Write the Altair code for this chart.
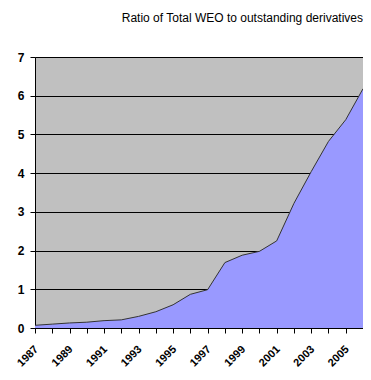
import altair as alt
import pandas as pd

years = list(range(1987, 2007))
ratio = [0.07, 0.10, 0.13, 0.15, 0.19, 0.21, 0.30, 0.42, 0.60, 0.87,
         0.99, 1.69, 1.88, 1.98, 2.25, 3.22, 4.04, 4.82, 5.38, 6.18]
y_ticks = [0, 1, 2, 3, 4, 5, 6, 7]
title_text = "Ratio of Total WEO to outstanding derivatives"

df = pd.DataFrame({"year": years, "ratio": ratio})

area = alt.Chart(df).mark_area(
    color="#9999FF",
    opacity=1,
    line={"color": "#333333", "strokeWidth": 1},
).encode(
    x=alt.X("year:Q",
            scale=alt.Scale(domain=[1987, 2006], nice=False, zero=False),
            axis=alt.Axis(values=years, title=None, grid=False,
                          labelExpr="datum.value % 2 == 1 ? datum.value : ''",
                          labelAngle=-45, labelAlign="right", labelBaseline="top",
                          labelPadding=10, labelOffset=-3,
                          labelFont="Liberation Sans",
                          labelFontWeight="bold", labelFontSize=11,
                          labelColor="#000000", tickColor="#000000",
                          tickSize=5, domainColor="#000000", labelOverlap=False,
                          labelFlush=False, labelBound=False)),
    y=alt.Y("ratio:Q",
            scale=alt.Scale(domain=[0, 7], nice=False),
            axis=alt.Axis(values=y_ticks, title=None, grid=True,
                          gridColor="#000000", gridWidth=1, gridOpacity=1,
                          labelFont="Liberation Sans", labelFontWeight="bold",
                          labelFontSize=12, labelColor="#000000",
                          tickColor="#000000", tickSize=5, labelPadding=6,
                          domainColor="#000000", labelFlush=False)),
)

title = alt.Chart(pd.DataFrame({"t": [title_text]})).mark_text(
    align="right", baseline="alphabetic",
    font="Liberation Sans Narrow, Arial Narrow, Liberation Sans",
    fontSize=12, color="#000000",
).encode(
    text="t:N",
    x=alt.value(328),
    y=alt.value(-35),
)

chart = alt.layer(area, title).properties(
    width=328,
    height=271,
    autosize=alt.AutoSizeParams(type="none"),
    padding={"left": 27, "top": 49, "right": 0, "bottom": 40},
).configure(
    background="#FFFFFF"
).configure_view(
    fill="#C0C0C0",
    stroke="#A0A0A0",
    strokeWidth=1,
)

chart.save("out.html", embed_options={"renderer": "svg", "actions": False})
